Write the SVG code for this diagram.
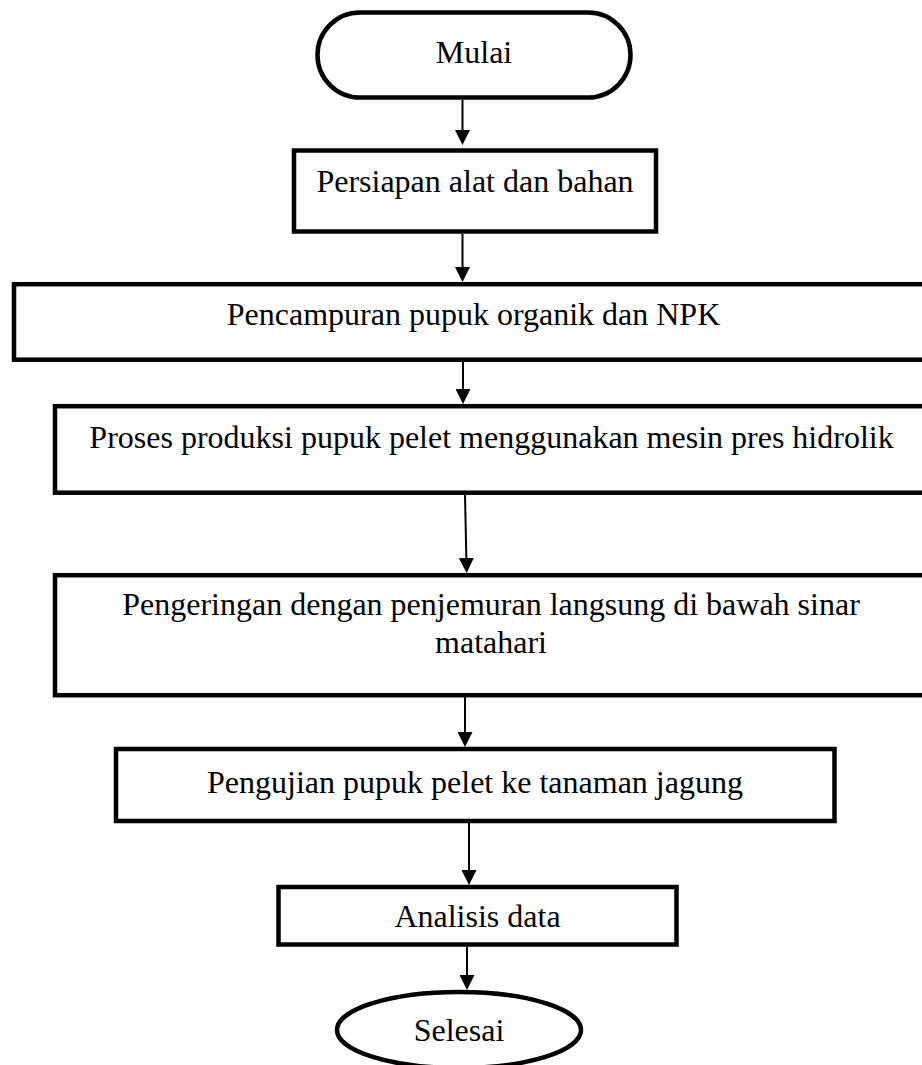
<svg xmlns="http://www.w3.org/2000/svg" width="922" height="1065" viewBox="0 0 922 1065">
<style>
.box{fill:#fff;stroke:#000;stroke-width:4.5}
.t{font-family:"Liberation Serif","Times New Roman",serif;font-size:32px;fill:#000;text-anchor:middle}
.c{stroke:#000;stroke-width:2;fill:none;marker-end:url(#ah)}
</style>
<defs>
<marker id="ah" viewBox="0 0 15 15" refX="7" refY="7.5" markerWidth="15" markerHeight="15" markerUnits="userSpaceOnUse" orient="auto">
<path d="M0,0 L15,7.5 L0,15 Z" fill="#000"/>
</marker>
</defs>
<rect width="922" height="1065" fill="#fff"/>
<g id="connectors">
<line class="c" x1="462.5" y1="100" x2="462.5" y2="137"/>
<line class="c" x1="462.5" y1="234" x2="462.5" y2="274"/>
<line class="c" x1="463" y1="362" x2="463" y2="396"/>
<line class="c" x1="465" y1="495" x2="466.5" y2="565"/>
<line class="c" x1="465" y1="697" x2="465" y2="739"/>
<line class="c" x1="469" y1="823" x2="469" y2="877"/>
<line class="c" x1="467" y1="947" x2="467" y2="982"/>
</g>
<g id="start">
<rect class="box" x="317.5" y="12.5" width="313" height="85" rx="42.5" ry="42.5"/>
<text class="t" x="474" y="63">Mulai</text>
</g>
<g id="persiapan">
<rect class="box" x="294" y="150.5" width="362" height="81"/>
<text class="t" x="475" y="192">Persiapan alat dan bahan</text>
</g>
<g id="pencampuran">
<rect class="box" x="14" y="284.2" width="920" height="75.5"/>
<text class="t" x="473.5" y="325">Pencampuran pupuk organik dan NPK</text>
</g>
<g id="proses">
<rect class="box" x="55" y="406.2" width="880" height="86.5"/>
<text class="t" x="491.5" y="448">Proses produksi pupuk pelet menggunakan mesin pres hidrolik</text>
</g>
<g id="pengeringan">
<rect class="box" x="55" y="575.2" width="880" height="120"/>
<text class="t" x="491" y="615">Pengeringan dengan penjemuran langsung di bawah sinar</text>
<text class="t" x="491" y="653">matahari</text>
</g>
<g id="pengujian">
<rect class="box" x="116" y="749" width="718.5" height="72"/>
<text class="t" x="475" y="793">Pengujian pupuk pelet ke tanaman jagung</text>
</g>
<g id="analisis">
<rect class="box" x="278.5" y="887" width="398" height="57.5"/>
<text class="t" x="477.5" y="927">Analisis data</text>
</g>
<g id="selesai">
<ellipse class="box" cx="459" cy="1030" rx="122" ry="38"/>
<text class="t" x="459" y="1041">Selesai</text>
</g>
</svg>
